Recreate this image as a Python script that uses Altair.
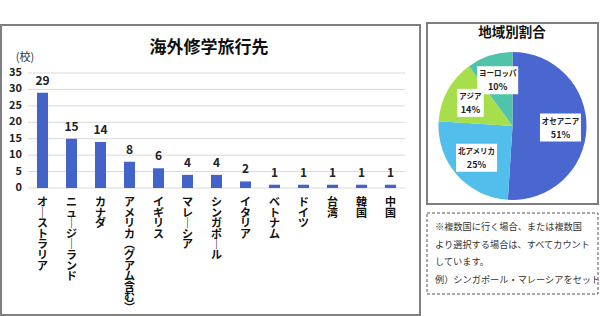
import altair as alt
import pandas as pd

# ---------------- data ----------------
countries = ["オーストラリア", "ニュージーランド", "カナダ", "アメリカ（グアム含む）", "イギリス",
             "マレーシア", "シンガポール", "イタリア", "ベトナム", "ドイツ", "台湾", "韓国", "中国"]
counts = [29, 15, 14, 8, 6, 4, 4, 2, 1, 1, 1, 1, 1]

regions = ["オセアニア", "北アメリカ", "アジア", "ヨーロッパ"]
shares = [51, 25, 14, 10]
region_colors = ["#4A66CF", "#52BEEC", "#A6DE4C", "#50C4A8"]

y_ticks = [0, 5, 10, 15, 20, 25, 30, 35]
bar_title = "海外修学旅行先"
pie_title = "地域別割合"
unit_label = "(校)"
note_lines = ["※複数国に行く場合、または複数国",
              "より選択する場合は、すべてカウント",
              "しています。",
              "例）シンガポール・マレーシアをセット"]

FONT = "Noto Sans CJK JP"
W, H = 377, 115          # bar plot area
PIE_CX, PIE_CY, PIE_R = 484.5, 53, 74
LABEL_R = 48

# vertical (tategaki) forms for a few characters
VERT = {"ー": "｜", "（": "︵", "）": "︶"}


def vertical(s):
    return [VERT.get(c, c) for c in s]


bar_rows = [{"country": c, "count": n, "vlabel": vertical(c)} for c, n in zip(countries, counts)]
bar_data = alt.Data(values=bar_rows)
tick_df = pd.DataFrame({"v": y_ticks})
pie_df = pd.DataFrame({"region": regions, "share": shares, "idx": list(range(len(regions)))})
one = alt.Data(values=[{"k": 1}])

# ---------------- frames ----------------
def frame(x1, x2, y1, y2, dash=None, color="#7f7f7f", width=2):
    kw = dict(fill="white", fillOpacity=0, stroke=color, strokeWidth=width)
    if dash:
        kw["strokeDash"] = dash
    return alt.Chart(one).mark_rect(**kw).encode(
        x=alt.value(x1), x2=alt.value(x2), y=alt.value(y1), y2=alt.value(y2))

left_box = frame(-27, 392, -48, 242)
pie_box = frame(399, 570, -50, 131)
note_box = frame(399, 570, 140, 221, dash=[3, 2], color="#555555", width=1)

# ---------------- bar chart ----------------
xenc = alt.X("country:N", sort=countries, axis=None,
             scale=alt.Scale(paddingInner=0.62, paddingOuter=0.31))
yscale = alt.Scale(domain=[0, 35], nice=False)

grid = alt.Chart(tick_df).mark_rule(color="#d9d9d9", strokeWidth=1).encode(
    y=alt.Y("v:Q", scale=yscale, axis=None), x=alt.value(0), x2=alt.value(W))
ylabels = alt.Chart(tick_df).mark_text(font=FONT, fontSize=11, fontWeight="bold", align="right",
                                       baseline="middle", color="#222222").encode(
    y=alt.Y("v:Q", scale=yscale, axis=None), x=alt.value(-6), text=alt.Text("v:Q"))
unit = alt.Chart(one).mark_text(text=unit_label, font=FONT, fontSize=11, color="#333333").encode(
    x=alt.value(-3), y=alt.value(-15))

base = alt.Chart(bar_data)
bars = base.mark_bar(color="#4363C9").encode(
    x=xenc, y=alt.Y("count:Q", scale=yscale, axis=None))
values = base.mark_text(font=FONT, fontSize=12, fontWeight="bold", baseline="bottom",
                        dy=-5, color="#222222").encode(
    x=xenc, y=alt.Y("count:Q", scale=yscale, axis=None), text=alt.Text("count:Q"))
xlabels = base.mark_text(font=FONT, fontSize=11, fontWeight="bold", baseline="top",
                         align="center", lineHeight=10.6, color="#111111").encode(
    x=xenc, y=alt.value(H + 9), text=alt.Text("vlabel:N"))

title1 = alt.Chart(one).mark_text(text=bar_title, font=FONT, fontSize=17, fontWeight="bold",
                                  color="#111111").encode(x=alt.value(181), y=alt.value(-25))

# ---------------- pie ----------------
pie = alt.Chart(pie_df).mark_arc(outerRadius=PIE_R).encode(
    x=alt.value(PIE_CX), y=alt.value(PIE_CY),
    theta=alt.Theta("share:Q", stack=True),
    color=alt.Color("region:N", scale=alt.Scale(domain=regions, range=region_colors), legend=None),
    order=alt.Order("idx:Q"))

pie_pos = alt.Chart(pie_df).transform_joinaggregate(
    total="sum(share)"
).transform_window(
    cum="sum(share)", sort=[alt.SortField("idx")], frame=[None, 0]
).transform_calculate(
    mid="(datum.cum - datum.share / 2) / datum.total * 2 * PI",
    lx=f"{PIE_CX} + {LABEL_R} * sin(datum.mid)",
    ly=f"{PIE_CY} - {LABEL_R} * cos(datum.mid)",
    bw="length(datum.region) * 7.2 + 5",
    x1="datum.lx - datum.bw / 2",
    x2="datum.lx + datum.bw / 2",
    y1="datum.ly - 14",
    y2="datum.ly + 14",
    pct="datum.share + '%'",
)
lab_box = pie_pos.mark_rect(fill="white").encode(
    x=alt.X("x1:Q", scale=None, axis=None), x2="x2:Q",
    y=alt.Y("y1:Q", scale=None, axis=None), y2="y2:Q")
lab_name = pie_pos.mark_text(font=FONT, fontSize=7.5, fontWeight="bold", dy=-6,
                             color="#222222").encode(
    x=alt.X("lx:Q", scale=None, axis=None), y=alt.Y("ly:Q", scale=None, axis=None),
    text="region:N")
lab_pct = pie_pos.mark_text(font=FONT, fontSize=9, fontWeight="bold", dy=7,
                            color="#222222").encode(
    x=alt.X("lx:Q", scale=None, axis=None), y=alt.Y("ly:Q", scale=None, axis=None),
    text="pct:N")

title2 = alt.Chart(one).mark_text(text=pie_title, font=FONT, fontSize=13.5, fontWeight="bold",
                                  color="#111111").encode(x=alt.value(484), y=alt.value(-40))

note = alt.Chart(one).mark_text(font=FONT, fontSize=9.2, align="left", baseline="middle",
                                lineHeight=17.5, color="#333333").encode(
    x=alt.value(407), y=alt.value(154), text=alt.value(note_lines))

chart = alt.layer(
    left_box, pie_box, note_box,
    grid, ylabels, unit,
    bars, values, xlabels, title1,
    pie, lab_box, lab_name, lab_pct, title2, note
).properties(
    width=W, height=H,
    autosize=alt.AutoSizeParams(type="none"),
    padding={"left": 28, "top": 73, "right": 195, "bottom": 128},
    background="white",
).configure_view(stroke=None)

chart.save("out.html", embed_options={"renderer": "svg", "actions": False})
